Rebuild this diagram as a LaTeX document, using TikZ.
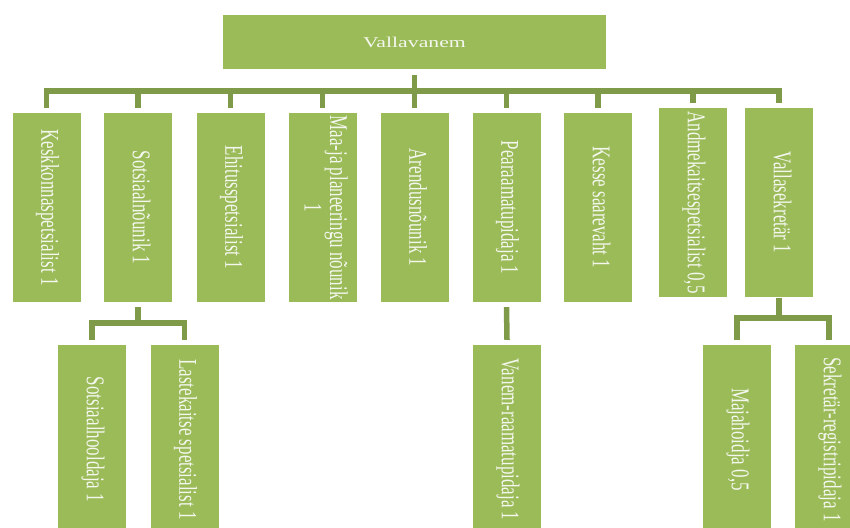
\documentclass[tikz,border=0pt]{standalone}
\usepackage{fontspec}
\usepackage{graphicx}
\setmainfont{Liberation Serif}
\definecolor{boxgreen}{HTML}{9BBB59}
\definecolor{linegreen}{HTML}{7F9B4A}
\definecolor{txt}{HTML}{F4F7EE}
\newcommand{\vlabel}[1]{\rotatebox{-90}{\scalebox{1}[1.5]{\fontsize{17}{17}\selectfont\begin{tabular}{@{}c@{}}#1\end{tabular}}}}
\begin{document}
\begin{tikzpicture}[x=1pt,y=-1pt,
  orgbox/.style={fill=boxgreen,draw=none,inner sep=0pt,text=txt,minimum width=68pt,minimum height=189pt},
  topbox/.style={fill=boxgreen,draw=none,inner sep=0pt,text=txt,minimum width=383pt,minimum height=54pt},
  conn/.style={draw=linegreen,line width=5.5pt}]
\useasboundingbox (0,0) rectangle (850,527);
\clip (0,0) rectangle (850,527);
\node[topbox] (top) at (414.5,42) {\scalebox{1.45}[1]{\fontsize{15}{18}\selectfont Vallavanem}};
\node[orgbox] (b1) at (46.5,207.5) {\vlabel{Keskkonnaspetsialist 1}};
\node[orgbox] (b2) at (138,207.5) {\vlabel{Sotsiaalnõunik 1}};
\node[orgbox] (b3) at (230.5,207.5) {\vlabel{Ehitusspetsialist 1}};
\node[orgbox] (b4) at (322.5,207.5) {\vlabel{Maa-ja planeeringu nõunik\\1}};
\node[orgbox] (b5) at (414.5,207.5) {\vlabel{Arendusnõunik 1}};
\node[orgbox] (b6) at (506.5,207.5) {\vlabel{Pearaamatupidaja 1}};
\node[orgbox] (b7) at (598,207.5) {\vlabel{Kesse saarevaht 1}};
\node[orgbox] (b8) at (693,202.5) {\vlabel{Andmekaitsespetsialist 0,5}};
\node[orgbox] (b9) at (779,202.5) {\vlabel{Vallasekretär 1}};
\node[orgbox] (c1) at (92,439.5) {\vlabel{Sotsiaalhooldaja 1}};
\node[orgbox] (c2) at (184.5,439.5) {\vlabel{Lastekaitse spetsialist 1}};
\node[orgbox] (c3) at (507,439.5) {\vlabel{Vanem-raamatupidaja 1}};
\node[orgbox] (c4) at (737,439.5) {\vlabel{Majahoidja 0,5}};
\node[orgbox] (c5) at (829,439.5) {\vlabel{Sekretär-registripidaja 1}};
% main bus
\coordinate (bus) at (414.5,91);
\draw[conn] ([yshift=-6pt]top.south) -- ([yshift=5pt]b5.north);
\foreach \b in {b1,b2,b3,b4,b6,b7,b8,b9}
  \draw[conn] (bus) -| ([yshift=5pt]\b.north);
% Sotsiaalnõunik branch
\draw[conn] ([yshift=-5pt]b2.south) -- ++(0,16) coordinate (s2) -| ([yshift=5pt]c1.north);
\draw[conn] (s2) -| ([yshift=5pt]c2.north);
% Pearaamatupidaja branch
\draw[conn] ([yshift=-5pt]b6.south) -- ([yshift=5pt]c3.north);
% Vallasekretär branch
\draw[conn] ([yshift=-1pt]b9.south) -- ++(0,20) coordinate (s9) -| ([yshift=5pt]c4.north);
\draw[conn] (s9) -| ([yshift=5pt]c5.north);
\end{tikzpicture}
\end{document}
